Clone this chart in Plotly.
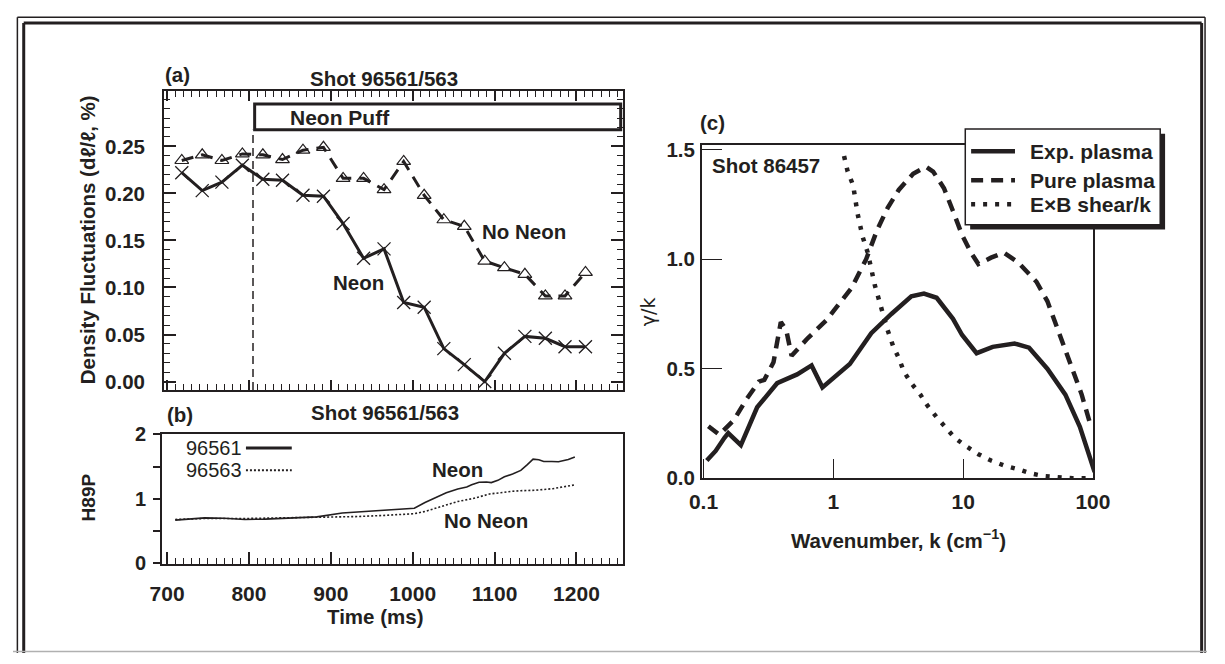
import plotly.graph_objects as go

W, H = 1225, 664
FONT = "Liberation Sans, Arial, Helvetica, sans-serif"
BLACK = "#231f20"


def fx(x):
    return x / W


def fy(y):
    return 1 - y / H


# ---------------- data ----------------
# Panel (a): density fluctuations vs time
time_a = [718, 743, 767, 792, 817, 841, 866, 891, 915, 940, 965,
          989, 1014, 1038, 1063, 1088, 1112, 1137, 1162, 1186, 1211]
neon_a = [0.222, 0.203, 0.212, 0.230, 0.215, 0.214, 0.198, 0.197, 0.168, 0.131, 0.141,
          0.084, 0.079, 0.035, 0.018, 0.000, 0.030, 0.048, 0.046, 0.037, 0.037]
noneon_a = [0.235, 0.241, 0.235, 0.242, 0.241, 0.236, 0.246, 0.249, 0.216, 0.216, 0.204,
            0.234, 0.198, 0.172, 0.165, 0.128, 0.121, 0.114, 0.091, 0.091, 0.116]
puff_start, puff_end = 805, 1254
puff_lo, puff_hi = 0.2676, 0.295
ytick_a = [0, 0.05, 0.10, 0.15, 0.20, 0.25]

# Panel (b): H89P vs time
time_561 = [710, 728, 746, 770, 795, 820, 848, 870, 883, 914, 940, 962, 985, 1002, 1015,
            1030, 1041, 1055, 1066, 1072, 1081, 1090, 1096, 1104, 1112, 1122, 1132, 1140,
            1147, 1154, 1160, 1170, 1178, 1190, 1198]
h89p_561 = [0.665, 0.685, 0.700, 0.695, 0.675, 0.680, 0.700, 0.705, 0.715, 0.775, 0.795,
            0.815, 0.835, 0.850, 0.940, 1.030, 1.090, 1.150, 1.180, 1.215, 1.255, 1.260,
            1.250, 1.285, 1.340, 1.385, 1.440, 1.530, 1.615, 1.605, 1.580, 1.580, 1.575,
            1.610, 1.650]
time_563 = [710, 746, 795, 848, 893, 930, 960, 985, 1002, 1015, 1025, 1040, 1055, 1073,
            1095, 1110, 1122, 1135, 1149, 1171, 1185, 1198]
h89p_563 = [0.675, 0.690, 0.690, 0.700, 0.715, 0.720, 0.735, 0.750, 0.765, 0.800, 0.840,
            0.900, 0.955, 1.000, 1.075, 1.095, 1.115, 1.125, 1.130, 1.155, 1.185, 1.215]
xtick_b = [700, 800, 900, 1000, 1100, 1200]
xtick_b_half = [750, 850, 950, 1050, 1150, 1250]
ytick_b = [0, 1, 2]
ytick_b_half = [0.5, 1.5]

# Panel (c): growth rate / k vs wavenumber
k_exp = [0.106, 0.124, 0.145, 0.155, 0.194, 0.259, 0.369, 0.526, 0.68, 0.824, 1.34, 1.96,
         2.80, 3.99, 4.99, 6.25, 8.35, 9.82, 12.7, 16.9, 24.9, 32.2, 44.5, 61.3, 79.3,
         93.2, 103]
g_exp = [0.081, 0.125, 0.185, 0.206, 0.151, 0.324, 0.434, 0.474, 0.515, 0.415, 0.522, 0.662,
         0.750, 0.831, 0.843, 0.824, 0.728, 0.654, 0.571, 0.600, 0.615, 0.596, 0.500, 0.382,
         0.235, 0.103, 0.029]
k_pure = [0.109, 0.132, 0.171, 0.214, 0.267, 0.294, 0.346, 0.394, 0.434, 0.477, 0.637, 0.879,
          1.03, 1.38, 1.79, 2.17, 2.63, 3.19, 4.12, 5.16, 5.87, 7.12, 8.35, 9.82, 11.5,
          13.1, 16.4, 20.6, 26.6, 36.7, 44.5, 50.6, 59.4, 69.8, 81.9, 96.0]
g_pure = [0.238, 0.199, 0.265, 0.360, 0.441, 0.449, 0.529, 0.713, 0.676, 0.559, 0.640, 0.720,
          0.772, 0.868, 1.000, 1.132, 1.236, 1.316, 1.390, 1.422, 1.400, 1.324, 1.220, 1.110,
          1.030, 0.978, 1.007, 1.030, 0.985, 0.897, 0.809, 0.720, 0.603, 0.485, 0.382, 0.240]
k_exb = [1.21, 1.29, 1.42, 1.54, 1.68, 1.84, 2.09, 2.31, 2.62, 2.89, 3.18, 3.51, 3.99, 4.68,
         5.32, 6.25, 7.34, 8.63, 10.5, 13.1, 16.4, 20.5, 26.6, 33.3, 41.7, 53.9, 69.8, 90.2, 100]
g_exb = [1.471, 1.400, 1.338, 1.206, 1.103, 1.030, 0.880, 0.787, 0.676, 0.603, 0.551, 0.485,
         0.434, 0.382, 0.331, 0.279, 0.228, 0.184, 0.147, 0.110, 0.081, 0.059, 0.041, 0.022,
         0.010, 0.003, 0.000, 0.000, 0.000]
xtick_c = [0.1, 1, 10, 100]
ytick_c = [0, 0.5, 1.0, 1.5]

# ---------------- traces ----------------
fig = go.Figure()

fig.add_trace(go.Scatter(
    x=time_a, y=noneon_a, mode="lines+markers", xaxis="x", yaxis="y",
    line=dict(color=BLACK, width=3, dash="12px,8px"),
    marker=dict(symbol="triangle-up-open", size=12, color=BLACK, line=dict(width=1.2, color=BLACK)),
    name="No Neon"))
fig.add_trace(go.Scatter(
    x=time_a, y=neon_a, mode="lines+markers", xaxis="x", yaxis="y",
    line=dict(color=BLACK, width=3),
    marker=dict(symbol="x-thin-open", size=13, color=BLACK, line=dict(width=1.3, color=BLACK)),
    name="Neon"))

fig.add_trace(go.Scatter(
    x=time_563, y=h89p_563, mode="lines", xaxis="x2", yaxis="y2",
    line=dict(color=BLACK, width=1.6, dash="2px,2px"), name="96563"))
fig.add_trace(go.Scatter(
    x=time_561, y=h89p_561, mode="lines", xaxis="x2", yaxis="y2",
    line=dict(color=BLACK, width=1.6), name="96561"))

fig.add_trace(go.Scatter(
    x=k_exb, y=g_exb, mode="lines", xaxis="x3", yaxis="y3",
    line=dict(color=BLACK, width=4.5, dash="4px,8px"), name="E×B shear/k"))
fig.add_trace(go.Scatter(
    x=k_pure, y=g_pure, mode="lines", xaxis="x3", yaxis="y3",
    line=dict(color=BLACK, width=4.5, dash="12px,8px"), name="Pure plasma"))
fig.add_trace(go.Scatter(
    x=k_exp, y=g_exp, mode="lines", xaxis="x3", yaxis="y3",
    line=dict(color=BLACK, width=4.5), name="Exp. plasma"))

# ---------------- axes ----------------
base = dict(showgrid=False, zeroline=False, showline=True, linecolor=BLACK, tickcolor=BLACK)
overlay = dict(showgrid=False, zeroline=False, showline=False, showticklabels=False,
               tickcolor=BLACK, tickmode="array")


def bold(s):
    return dict(family=FONT, size=s, color=BLACK, weight="bold")


fig.update_layout(
    width=W, height=H, margin=dict(l=0, r=0, t=0, b=0),
    paper_bgcolor="white", plot_bgcolor="white",
    font=dict(family=FONT, color=BLACK, size=21),
    showlegend=False,
    # panel (a)
    xaxis=dict(base, domain=[fx(155), fx(626)], anchor="y", range=[696.4, 1257],
               showticklabels=False, ticks="inside", tickmode="linear", tick0=800, dtick=100,
               ticklen=10, tickwidth=1.5, linewidth=2, mirror="ticks",
               minor=dict(ticks="inside", tickmode="linear", tick0=700, dtick=10,
                          ticklen=6, tickwidth=1.2, tickcolor=BLACK)),
    yaxis=dict(base, domain=[fy(392), fy(83)], anchor="x", range=[-0.009, 0.3086],
               tickmode="array", tickvals=ytick_a, tickformat=".2f",
               ticks="inside", ticklen=12, tickwidth=1.5, linewidth=2, mirror="ticks",
               tickfont=bold(20.5), ticklabelstandoff=13,
               minor=dict(ticks="inside", tickmode="linear", tick0=0, dtick=0.01,
                          ticklen=6, tickwidth=1.2, tickcolor=BLACK)),
    # panel (b)
    xaxis2=dict(base, domain=[fx(153), fx(626)], anchor="y2", range=[694, 1257],
                tickmode="array", tickvals=xtick_b,
                ticks="inside", ticklen=12, tickwidth=1.5, linewidth=2, mirror=True,
                tickfont=bold(21), ticklabelstandoff=10,
                minor=dict(ticks="inside", tickmode="linear", tick0=700, dtick=10,
                           ticklen=6, tickwidth=1.2, tickcolor=BLACK)),
    xaxis4=dict(overlay, overlaying="x2", anchor="y2", side="bottom", range=[694, 1257],
                tickvals=xtick_b_half, ticks="inside", ticklen=12, tickwidth=1.5),
    yaxis2=dict(base, domain=[fy(572), fy(438)], anchor="x2", range=[-0.02, 2.0],
                tickmode="array", tickvals=ytick_b, ticks="outside", ticklen=7, tickwidth=1.5,
                linewidth=2, mirror=True, tickfont=bold(20), ticklabelstandoff=3,
                minor=dict(ticks="outside", tickmode="array", tickvals=ytick_b_half,
                           ticklen=7, tickwidth=1.5, tickcolor=BLACK)),
    yaxis4=dict(overlay, overlaying="y2", side="right", anchor="x2", range=[-0.02, 2.0],
                tickvals=[0.5, 1, 1.5], ticks="inside", ticklen=12, tickwidth=1.5),
    # panel (c)
    xaxis3=dict(base, type="log", domain=[fx(706.7), fx(1108)], anchor="y3",
                range=[-1.013, 2.0], tickmode="array", tickvals=xtick_c,
                ticktext=["0.1", "1", "10", "100"], ticks="inside", ticklen=19,
                tickwidth=1.3, linewidth=1.6, mirror=True, tickfont=bold(21),
                ticklabelstandoff=4),
    yaxis3=dict(base, domain=[fy(483.3), fy(138.5)], anchor="x3", range=[0, 1.5216],
                tickmode="array", tickvals=ytick_c, tickformat=".1f",
                ticks="inside", ticklen=20,
                tickwidth=1.3, linewidth=1.6, mirror=True, tickfont=bold(20.5),
                ticklabelstandoff=1),
)

# ---------------- shapes ----------------
shapes = []
# neon puff marker and box (panel a)
shapes.append(dict(type="line", xref="x", yref="y", x0=puff_start, x1=puff_start,
                   y0=-0.009, y1=puff_lo, line=dict(color=BLACK, width=1.5, dash="8px,5px")))
shapes.append(dict(type="rect", xref="x", yref="y", x0=puff_start + 2, x1=puff_end,
                   y0=puff_lo, y1=puff_hi, line=dict(color=BLACK, width=3),
                   fillcolor="rgba(0,0,0,0)"))

# legend of panel (b)
shapes.append(dict(type="line", xref="paper", yref="paper", x0=fx(239), x1=fx(286),
                   y0=fy(452), y1=fy(452), line=dict(color=BLACK, width=3)))
shapes.append(dict(type="line", xref="paper", yref="paper", x0=fx(239), x1=fx(286),
                   y0=fy(475), y1=fy(475), line=dict(color=BLACK, width=2, dash="2px,2px")))

# legend of panel (c)
shapes.append(dict(type="rect", xref="paper", yref="paper", x0=fx(982), x1=fx(1182),
                   y0=fy(226), y1=fy(127), line=dict(width=0), fillcolor=BLACK, layer="above"))
shapes.append(dict(type="rect", xref="paper", yref="paper", x0=fx(977), x1=fx(1177),
                   y0=fy(221), y1=fy(122), line=dict(color=BLACK, width=1.5),
                   fillcolor="white", layer="above"))
for yy, dash in [(145, "solid"), (175, "12px,8px"), (200, "4px,8px")]:
    shapes.append(dict(type="line", xref="paper", yref="paper", x0=fx(983), x1=fx(1028),
                       y0=fy(yy), y1=fy(yy), line=dict(color=BLACK, width=4.5, dash=dash),
                       layer="above"))

# outer double frame
for (xa, xb, ya, yb) in [(4.5, 4.5, 6.5, 664), (4.5, 1223, 6.5, 6.5), (1223, 1223, 6.5, 664)]:
    shapes.append(dict(type="line", xref="paper", yref="paper", x0=fx(xa), x1=fx(xb),
                       y0=fy(ya), y1=fy(yb), line=dict(color=BLACK, width=1.5)))
for (xa, xb, ya, yb) in [(11, 11, 12.5, 664), (11, 1219.5, 12.5, 12.5), (1219.5, 1219.5, 12.5, 664)]:
    shapes.append(dict(type="line", xref="paper", yref="paper", x0=fx(xa), x1=fx(xb),
                       y0=fy(ya), y1=fy(yb), line=dict(color=BLACK, width=3)))
shapes.append(dict(type="line", xref="paper", yref="paper", x0=0, x1=1,
                   y0=fy(662.5), y1=fy(662.5), line=dict(color="#b0b0b0", width=1.5)))

fig.update_layout(shapes=shapes)


# ---------------- text ----------------
def ann(text, x, y, size=21, weight="bold", angle=0, xanchor="center", family=FONT):
    fig.add_annotation(text=text, xref="paper", yref="paper", x=fx(x), y=fy(y),
                       xanchor=xanchor, yanchor="middle", showarrow=False, textangle=angle,
                       font=dict(family=family, size=size, color=BLACK, weight=weight))


ann("(a)", 169, 66, size=20.5)
ann("Shot 96561/563", 381, 70, size=20.5)
ann("Neon Puff", 336, 110)
ann("Neon", 354, 281, size=20.5)
ann("No Neon", 524, 228, size=20.5)
ann("Density Fluctuations (d\u2113/\u2113, %)", 76, 237, size=20.5, angle=-90)

ann("(b)", 171, 417, size=20.5)
ann("Shot 96561/563", 382, 415, size=20.5)
ann("96561", 175, 452, size=20, weight="normal", xanchor="left")
ann("96563", 175, 475, size=20, weight="normal", xanchor="left")
ann("Neon", 456, 474, size=20.5)
ann("No Neon", 485, 527, size=20.5)
ann("H89P", 77, 503, size=19, angle=-90)
ann("Time (ms)", 371, 626, size=20.5)

ann("(c)", 718, 115, size=20.5)
ann("Shot 86457", 715, 160, size=20.5, xanchor="left")
ann("\u03b3/k", 651, 311, size=19, weight="normal", angle=-90,
    family="DejaVu Sans, Liberation Sans, sans-serif")
ann("Wavenumber, k (cm<sup>\u22121</sup>)", 909, 546, size=20.5)
ann("Exp. plasma", 1041, 145, size=21, xanchor="left")
ann("Pure plasma", 1041, 175, size=21, xanchor="left")
ann("E\u00d7B shear/k", 1041, 200, size=21, xanchor="left")

fig.write_html("out.html")
